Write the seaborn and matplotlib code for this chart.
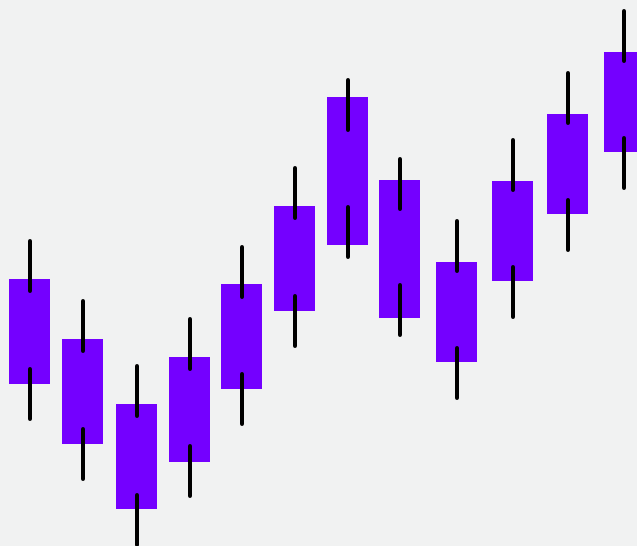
import numpy as np
import pandas as pd
import seaborn as sns
import matplotlib.pyplot as plt

# candle positions (time axis) and prices
t = [29.5, 82.5, 136.5, 189.5, 241.5, 294.5, 347.5, 399.5, 456.5, 512.5, 567.5, 624]
body_top = [267, 207, 142, 189, 262, 340, 449, 366, 284, 365, 432, 494]
body_bottom = [162, 102, 37, 84, 157, 235, 301, 228, 184, 265, 332, 394]
high = [307, 247, 182, 229, 301, 380, 468, 389, 327, 408, 475, 537]
low = [125, 65, -1, 48, 120, 198, 287, 209, 146, 227, 294, 356]

BG = '#f1f2f2'
PURPLE = '#7400ff'
STUB = 54    # visible length of each wick stub
CAP = 2      # round cap radius

df = pd.DataFrame({'t': t, 'top': body_top, 'bottom': body_bottom})
df['height'] = df['top'] - df['bottom']

sns.set_style('white')
fig = plt.figure(figsize=(6.37, 5.46), dpi=100, facecolor=BG)
ax = fig.add_axes([0, 0, 1, 1])
ax.set_facecolor(BG)

sns.barplot(data=df, x='t', y='height', bottom=df['bottom'].values,
            native_scale=True, width=41 / 52, color=PURPLE, saturation=1,
            linewidth=0, errorbar=None, ax=ax)

hi = np.array(high)
lo = np.array(low)
ax.vlines(t, hi - STUB + CAP, hi - CAP, color='black', linewidth=2.88,
          capstyle='round', zorder=3)
ax.vlines(t, lo + CAP, lo + STUB - CAP, color='black', linewidth=2.88,
          capstyle='round', zorder=3)

ax.set_xlim(0, 637)
ax.set_ylim(0, 546)
ax.axis('off')

fig.savefig('out.png', dpi=100, facecolor=BG)
